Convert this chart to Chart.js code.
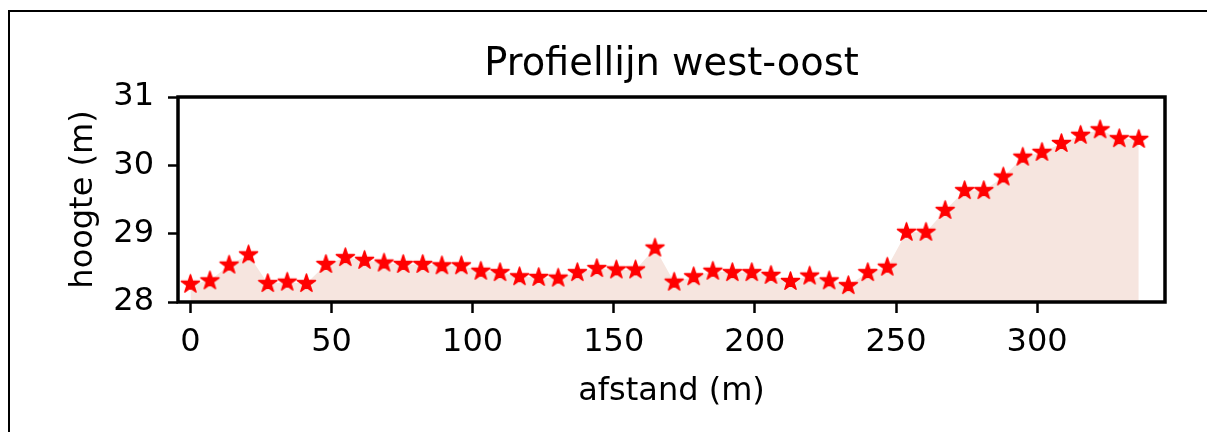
<!DOCTYPE html>
<html>
<head>
<meta charset="utf-8">
<script src="https://cdn.jsdelivr.net/npm/chart.js@4/dist/chart.umd.min.js"></script>
<style>
  html, body { margin: 0; padding: 0; background: #fff; }
  #wrap { width: 1207px; height: 432px; }
</style>
</head>
<body>
<div id="wrap"><canvas id="profiel" width="1207" height="432"></canvas></div>
<script>
// afstand (m) langs de profiellijn
const afstand = [0, 6.9, 13.7, 20.6, 27.4, 34.3, 41.1, 48.0, 54.9, 61.7,
  68.6, 75.4, 82.3, 89.1, 96.0, 102.9, 109.7, 116.6, 123.4, 130.3,
  137.1, 144.0, 150.9, 157.7, 164.6, 171.4, 178.3, 185.1, 192.0, 198.9,
  205.7, 212.6, 219.4, 226.3, 233.1, 240.0, 246.9, 253.7, 260.6, 267.4,
  274.3, 281.1, 288.0, 294.9, 301.7, 308.6, 315.4, 322.3, 329.1, 336.0];

// hoogte (m)
const hoogte = [28.26, 28.31, 28.54, 28.69, 28.27, 28.29, 28.27, 28.55, 28.65, 28.61,
  28.57, 28.55, 28.55, 28.53, 28.53, 28.45, 28.43, 28.37, 28.36, 28.35,
  28.43, 28.49, 28.47, 28.47, 28.79, 28.29, 28.37, 28.45, 28.43, 28.43,
  28.39, 28.30, 28.38, 28.31, 28.24, 28.43, 28.51, 29.02, 29.02, 29.34,
  29.63, 29.63, 29.83, 30.12, 30.19, 30.32, 30.44, 30.52, 30.39, 30.38];

const xTicks = [0, 50, 100, 150, 200, 250, 300];
const yTicks = [28, 29, 30, 31];
const titel = 'Profiellijn west-oost';

// gevulde ster als marker
function maakSter(r, kleur) {
  const c = document.createElement('canvas');
  const s = Math.ceil(r * 2 + 4);
  c.width = s; c.height = s;
  const g = c.getContext('2d');
  g.fillStyle = kleur;
  g.strokeStyle = kleur;
  g.lineWidth = 1.5;
  g.lineJoin = 'round';
  g.beginPath();
  for (let i = 0; i < 10; i++) {
    const rr = i % 2 === 0 ? r : r * 0.382;
    const a = -Math.PI / 2 + i * Math.PI / 5;
    const px = s / 2 + rr * Math.cos(a);
    const py = s / 2 + rr * Math.sin(a);
    if (i === 0) g.moveTo(px, py); else g.lineTo(px, py);
  }
  g.closePath();
  g.fill();
  g.stroke();
  return c;
}
const ster = maakSter(9.5, '#ff0000');

// figuurrand, titel boven het assenvlak en assenkader
const kaderPlugin = {
  id: 'kader',
  beforeDraw(chart) {
    const { ctx, chartArea: a } = chart;
    ctx.save();
    ctx.strokeStyle = '#000';
    ctx.lineWidth = 2;
    ctx.beginPath();
    ctx.moveTo(9, 432);
    ctx.lineTo(9, 11);
    ctx.lineTo(1207, 11);
    ctx.stroke();
    ctx.fillStyle = '#000';
    ctx.font = "38.4px 'DejaVu Sans', sans-serif";
    ctx.textAlign = 'center';
    ctx.textBaseline = 'alphabetic';
    ctx.fillText(titel, (a.left + a.right) / 2, 75);
    ctx.restore();
  },
  afterDatasetsDraw(chart) {
    const { ctx, chartArea: a } = chart;
    ctx.save();
    ctx.strokeStyle = '#000';
    ctx.lineWidth = 3.5;
    ctx.strokeRect(a.left, a.top, a.right - a.left, a.bottom - a.top);
    ctx.restore();
  }
};

const font = { family: "'DejaVu Sans', sans-serif", size: 32 };

new Chart(document.getElementById('profiel'), {
  type: 'line',
  data: {
    datasets: [{
      data: afstand.map((x, i) => ({ x: x, y: hoogte[i] })),
      borderWidth: 0,
      borderColor: 'rgba(0,0,0,0)',
      backgroundColor: '#f6e5df',
      fill: 'start',
      tension: 0,
      pointStyle: ster,
      pointRadius: 9,
      pointHoverRadius: 9
    }]
  },
  options: {
    responsive: false,
    animation: false,
    events: [],
    layout: { autoPadding: false, padding: { left: 0, right: 42, top: 97, bottom: 0 } },
    plugins: {
      legend: { display: false },
      tooltip: { enabled: false },
      title: { display: false }
    },
    scales: {
      x: {
        type: 'linear',
        min: -4.4,
        max: 345.3,
        afterBuildTicks: s => { s.ticks = xTicks.map(v => ({ value: v })); },
        afterFit: s => { s.height = 130; },
        ticks: { color: '#000', font: font, padding: 10, maxRotation: 0, includeBounds: false },
        grid: { drawOnChartArea: false, drawTicks: true, tickLength: 11, tickWidth: 2.5, tickColor: '#000' },
        border: { display: false },
        title: { display: true, text: 'afstand (m)', color: '#000', font: font, padding: { top: 0, bottom: 21 } }
      },
      y: {
        min: 28,
        max: 31,
        afterBuildTicks: s => { s.ticks = yTicks.map(v => ({ value: v })); },
        afterFit: s => { s.width = 178; },
        ticks: { color: '#000', font: font, padding: 14 },
        grid: { drawOnChartArea: false, drawTicks: true, tickLength: 10, tickWidth: 2.5, tickColor: '#000' },
        border: { display: false },
        title: { display: true, text: 'hoogte (m)', color: '#000', font: font, padding: { top: 64, bottom: 0 } }
      }
    }
  },
  plugins: [kaderPlugin]
});
</script>
</body>
</html>
